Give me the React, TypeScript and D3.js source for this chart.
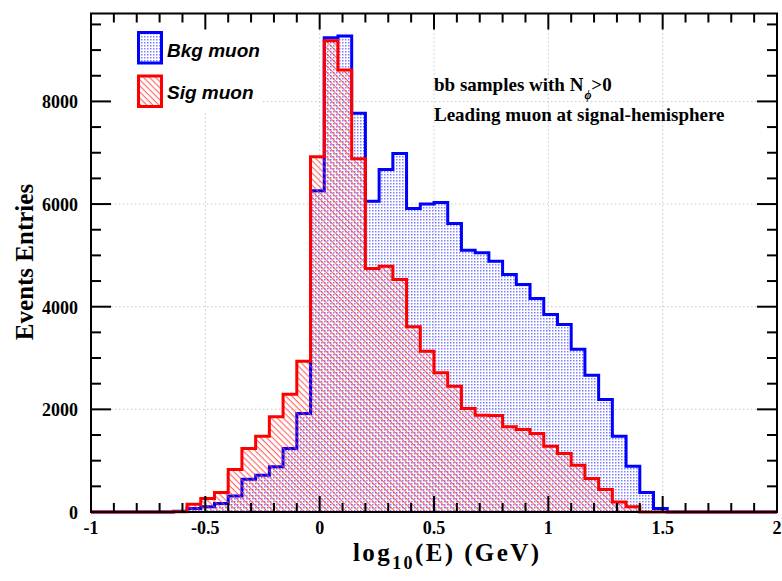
import React from "react";
import * as d3 from "d3";

// Histogram binning: 50 bins of width 0.06 spanning log10(E) in [-1, 2]
const X_MIN = -1;
const X_MAX = 2;
const N_BINS = 50;

// Bin contents (events per bin)
const bkgMuon = [
  0, 0, 0, 0, 0, 0, 15, 70, 100, 165,
  314, 639, 717, 880, 1237, 1920, 6260, 9240, 9273, 7767,
  6057, 6675, 6987, 5915, 5999, 6032, 5623, 5102, 5050, 4888,
  4629, 4434, 4161, 3849, 3654, 3173, 2666, 2192, 1477, 892,
  380, 68, 0, 0, 0, 0, 0, 0, 0, 0,
];
const sigMuon = [
  0, 0, 0, 0, 0, 0, 5, 150, 263, 380,
  828, 1237, 1477, 1854, 2296, 2935, 6920, 9182, 8611, 6882,
  4746, 4790, 4531, 3608, 3134, 2711, 2452, 2017, 1887, 1880,
  1659, 1608, 1530, 1283, 1140, 912, 653, 438, 197, 100,
  0, 0, 0, 0, 0, 0, 0, 0, 0, 0,
];

const legendLabels = ["Bkg muon", "Sig muon"];
const infoLines = ["bb samples with N", "Leading muon at signal-hemisphere"];
const Y_MAX = 9713;

const W = 782;
const H = 581;
const L = 91;
const R = 777;
const T = 13.5;
const B = 512;

const serif = "'Liberation Serif', 'Times New Roman', serif";
const sans = "'Liberation Sans', Arial, sans-serif";

function stepPath(values: number[], x: d3.ScaleLinear<number, number>, y: d3.ScaleLinear<number, number>, close: boolean) {
  const w = (X_MAX - X_MIN) / N_BINS;
  let p = "";
  values.forEach((v, i) => {
    const x0 = x(X_MIN + i * w);
    const x1 = x(X_MIN + (i + 1) * w);
    const yv = y(v);
    p += i === 0 ? `M${x0},${close ? y(0) : yv}L${x0},${yv}` : `L${x0},${yv}`;
    p += `L${x1},${yv}`;
  });
  if (close) p += `L${x(X_MAX)},${y(0)}Z`;
  return p;
}

export default function App() {
  const x = d3.scaleLinear().domain([X_MIN, X_MAX]).range([L, R]);
  const y = d3.scaleLinear().domain([0, Y_MAX]).range([B, T]);

  const xMajor = x.ticks(6);
  const xMinor = x.ticks(30);
  const yMajor = y.ticks(5);
  const yMinor = y.ticks(20);

  return (
    <svg width={W} height={H} style={{ position: "absolute", left: 0, top: 0, background: "#fff" }}>
      <defs>
        <pattern id="dots" width="3" height="3" patternUnits="userSpaceOnUse">
          <rect x="0" y="0" width="1.5" height="1.5" fill="#4a4aff" opacity="0.7" />
        </pattern>
        <pattern id="hatch" width="4.3" height="4.3" patternUnits="userSpaceOnUse" patternTransform="rotate(45)">
          <line x1="0" y1="0.6" x2="4.3" y2="0.6" stroke="#ff3b3b" strokeWidth="1.1" opacity="0.8" />
        </pattern>
      </defs>

      {/* grid */}
      <g stroke="#c8c8c8" strokeWidth={1} strokeDasharray="1.5,2.5">
        {xMajor.filter((v) => v > X_MIN && v < X_MAX).map((v) => (
          <line key={"gx" + v} x1={x(v)} x2={x(v)} y1={T} y2={B} />
        ))}
        {yMajor.filter((v) => v > 0).map((v) => (
          <line key={"gy" + v} x1={L} x2={R} y1={y(v)} y2={y(v)} />
        ))}
      </g>

      {/* legend background */}
      <rect x={111} y={21} width={151} height={92} fill="#fff" />

      {/* histograms */}
      <path d={stepPath(bkgMuon, x, y, true)} fill="url(#dots)" stroke="none" />
      <path d={stepPath(bkgMuon, x, y, false)} fill="none" stroke="#0000ff" strokeWidth={3} />
      <path d={stepPath(sigMuon, x, y, true)} fill="url(#hatch)" stroke="none" />
      <path d={stepPath(sigMuon, x, y, false)} fill="none" stroke="#ff0000" strokeWidth={3} />

      {/* ticks */}
      <g stroke="#000" strokeWidth={2}>
        {xMinor.map((v) => {
          const major = xMajor.some((m) => Math.abs(m - v) < 1e-9);
          const len = major ? 16 : 9;
          return (
            <g key={"tx" + v}>
              <line x1={x(v)} x2={x(v)} y1={B} y2={B - len} />
              <line x1={x(v)} x2={x(v)} y1={T} y2={T + len} />
            </g>
          );
        })}
        {yMinor.map((v) => {
          const major = yMajor.includes(v);
          const len = major ? 20 : 10;
          return (
            <g key={"ty" + v}>
              <line x1={L} x2={L + len} y1={y(v)} y2={y(v)} />
              <line x1={R} x2={R - len} y1={y(v)} y2={y(v)} />
            </g>
          );
        })}
      </g>

      {/* frame */}
      <rect x={L} y={T} width={R - L} height={B - T} fill="none" stroke="#000" strokeWidth={2} />

      {/* tick labels */}
      <g fontFamily={serif} fontWeight="bold" fontSize={18} fill="#000">
        {xMajor.map((v) => (
          <text key={"lx" + v} x={x(v)} y={534} textAnchor="middle">
            {String(v)}
          </text>
        ))}
        {yMajor.map((v) => (
          <text key={"ly" + v} x={78} y={y(v) + 7} textAnchor="end">
            {String(v)}
          </text>
        ))}
      </g>

      {/* axis titles */}
      <text x={353} y={561} fontFamily={serif} fontWeight="bold" fontSize={25} letterSpacing={2.4} fill="#000">
        log
        <tspan fontSize={18} dy={8}>10</tspan>
        <tspan dy={-8}>(E) (GeV)</tspan>
      </text>
      <text
        transform={`translate(33,262) rotate(-90)`}
        textAnchor="middle"
        fontFamily={serif}
        fontWeight="bold"
        fontSize={25}
        fill="#000"
      >
        Events Entries
      </text>

      {/* legend */}
      <rect x={138.5} y={32.5} width={23} height={30.5} fill="url(#dots)" stroke="#0000ff" strokeWidth={3} />
      <rect x={138.5} y={76} width={23} height={30.5} fill="url(#hatch)" stroke="#ff0000" strokeWidth={3} />
      <g fontFamily={sans} fontWeight="bold" fontStyle="italic" fontSize={19} fill="#000">
        <text x={167} y={57}>{legendLabels[0]}</text>
        <text x={167} y={99}>{legendLabels[1]}</text>
      </g>

      {/* annotation */}
      <g fontFamily={serif} fontWeight="bold" fontSize={19} fill="#000">
        <text x={434} y={90.7}>
          {infoLines[0]}
          <tspan fontSize={12} fontStyle="italic" dy={8} dx={1}>ϕ</tspan>
          <tspan dy={-8}>&gt;0</tspan>
        </text>
        <text x={434} y={121}>{infoLines[1]}</text>
      </g>
    </svg>
  );
}
